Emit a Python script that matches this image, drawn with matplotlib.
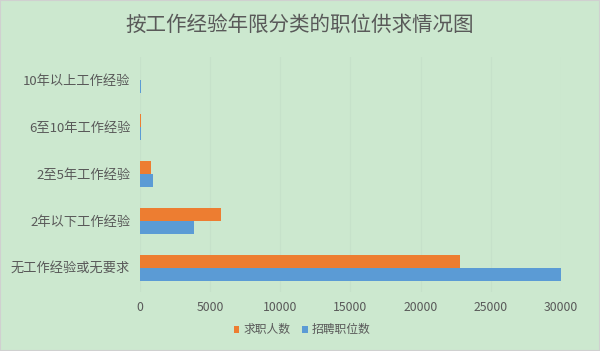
import numpy as np
import matplotlib
matplotlib.use("Agg")
import matplotlib.pyplot as plt
from matplotlib.patches import Rectangle

plt.rcParams['font.family'] = ['Noto Sans CJK SC', 'DejaVu Sans']

categories = ['无工作经验或无要求', '2年以下工作经验', '2至5年工作经验', '6至10年工作经验', '10年以上工作经验']
seekers = [22800, 5800, 760, 50, 10]        # 求职人数
positions = [30100, 3850, 950, 60, 60]      # 招聘职位数
xticks = [0, 5000, 10000, 15000, 20000, 25000, 30000]

bg = '#CCE8CF'
txt = '#595959'
orange = '#ED7D31'
blue = '#5B9BD5'

fig = plt.figure(figsize=(6.0, 3.51), dpi=100)
fig.patch.set_facecolor(bg)
fig.patches.append(Rectangle((0, 0), 1, 1, transform=fig.transFigure,
                             fill=False, edgecolor='#D0D0D0', linewidth=1.5))

ax = fig.add_axes([0.2333, 0.1695, 0.7017, 0.6695])
ax.set_facecolor(bg)

y = np.arange(len(categories))
h = 0.285
ax.barh(y + h / 2, seekers, height=h, color=orange, label='求职人数', zorder=3)
ax.barh(y - h / 2, positions, height=h, color=blue, label='招聘职位数', zorder=3)

ax.set_xlim(0, 30000)
ax.set_ylim(-0.5, len(categories) - 0.5)
ax.set_yticks(y)
ax.set_yticklabels(categories, fontsize=9.5, color=txt)
ax.set_xticks(xticks)
ax.set_xticklabels([str(v) for v in xticks], fontsize=8.8, color=txt)
ax.tick_params(axis='both', length=0)
ax.tick_params(axis='y', pad=7)
ax.tick_params(axis='x', pad=7)
ax.grid(axis='x', color='#C6E1CA', linewidth=0.8, zorder=0)
for s in ax.spines.values():
    s.set_visible(False)

fig.text(0.5, 0.928, '按工作经验年限分类的职位供求情况图', ha='center', va='center',
         fontsize=14.8, color=txt)

leg = fig.legend(loc='center', bbox_to_anchor=(0.503, 0.06), ncol=2, frameon=False,
                 fontsize=8.5, handlelength=0.5, handleheight=0.5, handletextpad=0.3,
                 columnspacing=1.0)
for t in leg.get_texts():
    t.set_color(txt)

fig.savefig('out.png', dpi=100, facecolor=bg)
